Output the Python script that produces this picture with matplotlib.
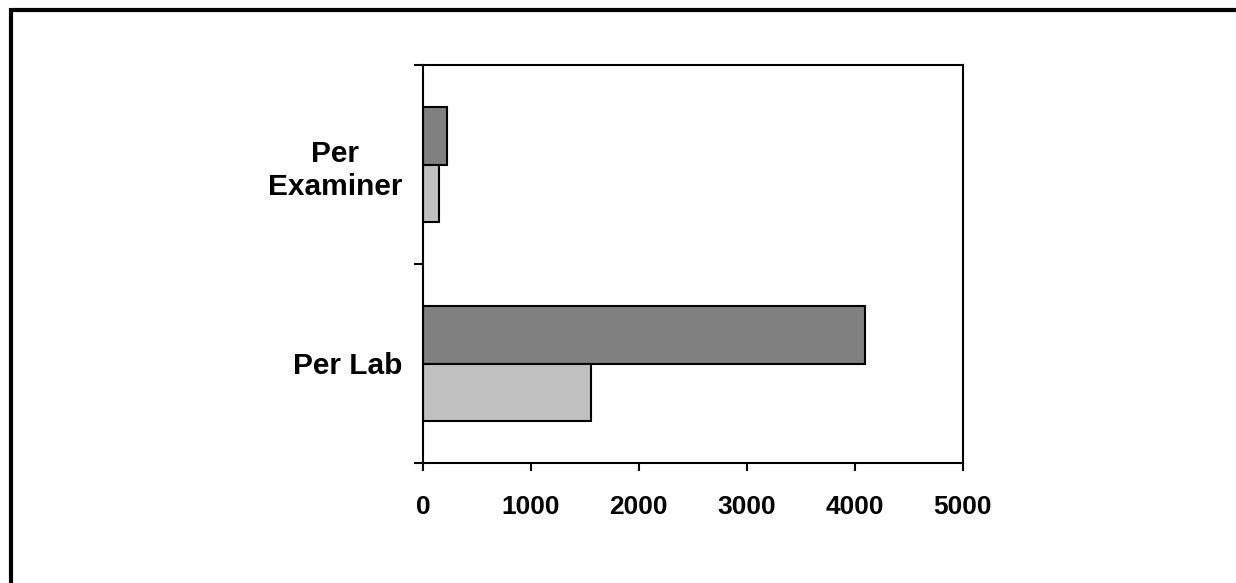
import numpy as np
import matplotlib.pyplot as plt
from matplotlib.patches import Rectangle

plt.rcParams['font.family'] = ['Liberation Sans', 'DejaVu Sans']
plt.rcParams['font.weight'] = 'bold'

# Per-lab and per-examiner totals for the two series
categories = ['Per Lab', 'Per\nExaminer']
series_dark = [4100, 220]
series_light = [1560, 150]
x_ticks = [0, 1000, 2000, 3000, 4000, 5000]

fig = plt.figure(figsize=(12.36, 5.83), dpi=100)

# frame around the whole figure (runs off the right and bottom edges)
fig.patches.append(Rectangle((11 / 1236, -0.1), 1.2, 1 - 10 / 583 + 0.1,
                             transform=fig.transFigure, fill=False,
                             edgecolor='black', linewidth=3, zorder=0))

ax = fig.add_axes([423 / 1236, (583 - 463) / 583, 539.5 / 1236, 398 / 583])

y = np.arange(len(categories))
h = 0.29
ax.barh(y + h / 2, series_dark, height=h, color='#808080',
        edgecolor='black', linewidth=1.5)
ax.barh(y - h / 2, series_light, height=h, color='#c0c0c0',
        edgecolor='black', linewidth=1.5)

ax.set_xlim(0, 5000)
ax.set_ylim(-0.5, 1.5)
ax.set_xticks(x_ticks)
ax.set_xticklabels([str(v) for v in x_ticks], fontsize=19, fontweight='bold')
ax.tick_params(axis='x', direction='out', length=6, width=1.5, pad=17)

# category ticks sit on the group boundaries, labels in the middle
ax.set_yticks([-0.5, 0.5, 1.5])
ax.set_yticklabels([])
ax.set_yticks(y, minor=True)
ax.set_yticklabels(categories, minor=True, fontsize=21.5, fontweight='bold',
                   ha='right', multialignment='center', linespacing=1.26)
ax.tick_params(axis='y', which='major', direction='out', length=6.5, width=1.5)
ax.tick_params(axis='y', which='minor', length=0, pad=15)

for s in ax.spines.values():
    s.set_linewidth(1.5)

fig.savefig('out.png', dpi=100)
